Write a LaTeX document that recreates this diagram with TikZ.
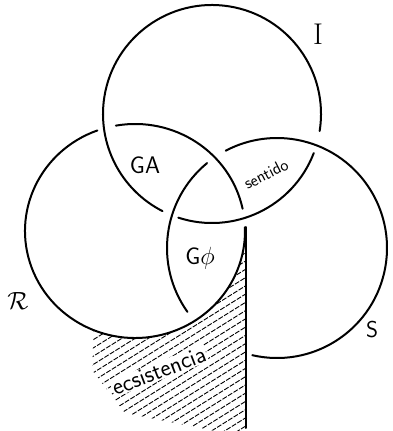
\documentclass[tikz,border=0pt]{standalone}
\usepackage{tikz}
\usetikzlibrary{positioning}
\tikzset{
	ring/.style ={draw=black, line width=2pt, line cap=round},
	hatch/.style={draw=black, line width=0.9pt, dash pattern=on 5pt off 1.5pt},
	lbl/.style  ={inner sep=0pt, font=\sffamily},
}
\begin{document}
\begin{tikzpicture}[x=1pt, y=1pt]
	\useasboundingbox (0,0) rectangle (392,431);
	% centres of the three rings
	\coordinate (cI) at (212,317);
	\coordinate (cR) at (135,200);
	\coordinate (cS) at (277,183);
	% I
	\draw[ring] ([shift={(-9:109)}]cI) arc[start angle=-9, end angle=243, radius=109];
	\draw[ring] ([shift={(-108:109)}]cI) arc[start angle=-108, end angle=-21, radius=109];
	% R
	\draw[ring] ([shift={(110:110 and 107)}]cR) arc[start angle=110, end angle=362, x radius=110, y radius=107];
	\draw[ring] ([shift={(12:110 and 107)}]cR) arc[start angle=12, end angle=100, x radius=110, y radius=107];
	% S
	\draw[ring] ([shift={(129.5:110)}]cS) arc[start angle=129.5, end angle=215.5, radius=110];
	\draw[ring] ([shift={(257:110)}]cS) arc[start angle=257, end angle=477.8, radius=110];
	% hatched field
	\begin{scope}
		\clip ([shift={(0:110 and 107)}]cR) arc[start angle=0, end angle=-112, x radius=110, y radius=107]
			-- (92,61) -- (125,18) -- (215,0) -- (246,0) -- cycle;
		\begin{scope}[rotate=32]
			\foreach \c in {-133,-126,...,42}
				\draw[hatch] (-100,\c) -- (450,\c);
		\end{scope}
	\end{scope}
	% vertical stroke
	\coordinate (top) at (245.5,204);
	\coordinate (foot) at (245.5,3);
	\draw[ring] (top) -- (foot);
	% labels
	\node[lbl, font=\rmfamily] (labI) at (318,397) {\fontsize{30}{30}\selectfont I};
	\node[lbl] (labR) at (18,130) {\fontsize{30}{30}\selectfont $\mathcal{R}$};
	\node[lbl] (labS) at (372,101) {\fontsize{23}{23}\selectfont S};
	\node[lbl] (gA) at (145,266) {\fontsize{24}{24}\selectfont GA};
	\node[lbl] (gphi) at (200,173) {\fontsize{24}{24}\selectfont G$\phi$};
	\node[lbl, rotate=27] (sen) at (266,257) {\fontsize{17}{17}\selectfont sentido};
	\node[lbl, rotate=21, fill=white, inner sep=1pt] (ecs) at (159,60) {\fontsize{24}{24}\selectfont ecsistencia};
\end{tikzpicture}
\end{document}
